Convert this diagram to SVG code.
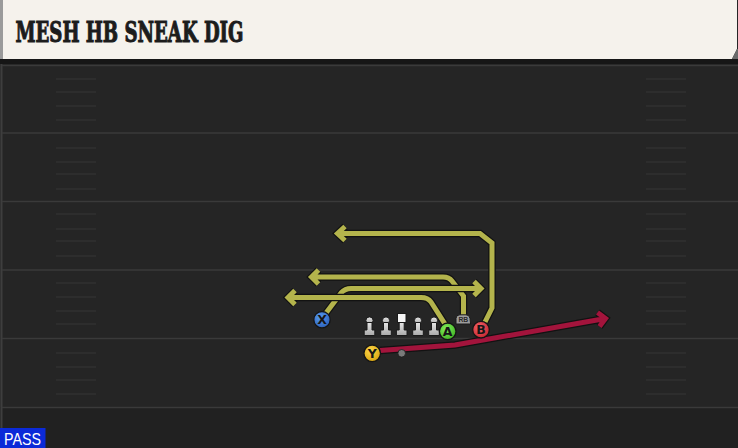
<svg xmlns="http://www.w3.org/2000/svg" width="738" height="448" viewBox="0 0 738 448">
<style>
.yard{stroke:#3a3a3a;stroke-width:1.6}
.hash{stroke:#363636;stroke-width:1.2}
.rt-o{fill:none;stroke:#121212;stroke-width:7.4;stroke-linejoin:miter;stroke-linecap:butt}
.rt{fill:none;stroke:#b4b44c;stroke-width:5;stroke-linejoin:miter;stroke-linecap:butt}
.rd{fill:none;stroke:#a3143c;stroke-width:5;stroke-linejoin:miter;stroke-linecap:butt}
.pl{stroke:#151515;stroke-width:1.3}
.lbl{font-family:"DejaVu Sans","Liberation Sans",Arial,sans-serif;font-weight:bold;font-size:12.5px;fill:#161616;text-anchor:middle}
.ol{fill:url(#gray);stroke:#1a1a1a;stroke-width:1}
.title{font-family:"DejaVu Serif","Liberation Serif",serif;font-weight:bold;font-size:28px;fill:#1c1c1c;stroke:#1c1c1c;stroke-width:1.1}
</style>
<defs>
<linearGradient id="gray" x1="0" y1="0" x2="0" y2="1">
<stop offset="0" stop-color="#e6e6e6"/><stop offset="1" stop-color="#aaaaaa"/>
</linearGradient>
<radialGradient id="gX" cx="0.4" cy="0.35" r="0.7"><stop offset="0" stop-color="#5a9cf0"/><stop offset="1" stop-color="#2a5fb8"/></radialGradient>
<radialGradient id="gA" cx="0.4" cy="0.35" r="0.7"><stop offset="0" stop-color="#84ee5c"/><stop offset="1" stop-color="#3fb122"/></radialGradient>
<radialGradient id="gB" cx="0.4" cy="0.35" r="0.7"><stop offset="0" stop-color="#f4646a"/><stop offset="1" stop-color="#c4242e"/></radialGradient>
<radialGradient id="gY" cx="0.4" cy="0.35" r="0.7"><stop offset="0" stop-color="#ffd84a"/><stop offset="1" stop-color="#d6a20e"/></radialGradient>
</defs>

<!-- field -->
<rect x="0" y="0" width="738" height="448" fill="#252525"/>
<rect x="0" y="407" width="738" height="41" fill="#212121"/>
<line x1="1.5" y1="60" x2="1.5" y2="428" stroke="#3e3e3e" stroke-width="2"/>
<g id="yardlines">
<line class="yard" x1="2" y1="65.5" x2="738" y2="65.5"/>
<line class="yard" x1="2" y1="133" x2="738" y2="133"/>
<line class="yard" x1="2" y1="201.5" x2="738" y2="201.5"/>
<line class="yard" x1="2" y1="270" x2="738" y2="270"/>
<line class="yard" x1="2" y1="338.5" x2="738" y2="338.5"/>
<line class="yard" x1="2" y1="407.5" x2="738" y2="407.5"/>
</g>
<g id="hashes">
<path class="hash" d="M56 79H96M56 92H96M56 106H96M56 120H96M56 148H96M56 162H96M56 174H96M56 189H96M56 214H96M56 229H96M56 241H96M56 256H96M56 283H96M56 297H96M56 311H96M56 324H96M56 353H96M56 367H96M56 380H96M56 394H96"/>
<path class="hash" d="M646 79H686M646 92H686M646 106H686M646 120H686M646 148H686M646 162H686M646 174H686M646 189H686M646 214H686M646 229H686M646 241H686M646 256H686M646 283H686M646 297H686M646 311H686M646 324H686M646 353H686M646 367H686M646 380H686M646 394H686"/>
</g>

<!-- header -->
<g id="header">
<rect x="0" y="59" width="738" height="5" fill="#161616"/>
<rect x="0" y="0" width="3" height="59" fill="#9a9a9a"/>
<polygon points="3,0 737,0 737,49 732,59 3,59" fill="#f5f2ec"/>
<polygon points="737,49 738,49 738,59 732,59" fill="#6a6a6a"/>
<text class="title" x="15.5" y="42" textLength="228" lengthAdjust="spacingAndGlyphs">MESH HB SNEAK DIG</text>
</g>

<!-- connectors -->
<g id="connectors">
<g id="route-B">
<path class="rt-o" d="M485 322L492 308V243L480 233.5H337M345 226.5L337.5 233.5L345 240.5"/>
<path class="rt" d="M485 322L492 308V243L480 233.5H337M345 226.5L337.5 233.5L345 240.5"/>
</g>
<g id="route-RB">
<path class="rt-o" d="M463.5 315V296L452 281Q449 277 443 277H311M318.5 270L311.5 277L318.5 284"/>
<path class="rt" d="M463.5 315V296L452 281Q449 277 443 277H311M318.5 270L311.5 277L318.5 284"/>
</g>
<g id="route-X">
<path class="rt-o" d="M326 313L341 293Q345 288.5 351 288.5H481M474 281.5L481 288.5L474 295.5"/>
<path class="rt" d="M326 313L341 293Q345 288.5 351 288.5H481M474 281.5L481 288.5L474 295.5"/>
</g>
<g id="route-A">
<path class="rt-o" d="M445 324L431 302Q428 297.5 421 297.5H288M295 290.5L288 297.5L295 304.5"/>
<path class="rt" d="M445 324L431 302Q428 297.5 421 297.5H288M295 290.5L288 297.5L295 304.5"/>
</g>
<g id="route-Y">
<path class="rt-o" d="M380 350.5L455 345L605.5 318.5M597.5 312.5L605.5 318.5L599.5 326.5"/>
<path class="rd" d="M380 350.5L455 345L605.5 318.5M597.5 312.5L605.5 318.5L599.5 326.5"/>
</g>
</g>

<!-- offensive line -->
<g id="lineman-1"><circle class="ol" cx="369.5" cy="320.5" r="3.6"/><path class="ol" d="M367 322.5H372V330H374.8V335.5H364.2V330H367Z"/></g>
<g id="lineman-2"><circle class="ol" cx="386" cy="320.5" r="3.6"/><path class="ol" d="M383.5 322.5H388.5V330H391.3V335.5H380.7V330H383.5Z"/></g>
<g id="center"><path class="ol" d="M399.2 322.5H404.2V330H407V335.5H396.4V330H399.2Z"/><rect x="397.5" y="313.5" width="8.5" height="9" fill="#f6f6f6" stroke="#1a1a1a" stroke-width="1"/></g>
<g id="lineman-4"><circle class="ol" cx="418" cy="320.5" r="3.6"/><path class="ol" d="M415.5 322.5H420.5V330H423.3V335.5H412.7V330H415.5Z"/></g>
<g id="lineman-5"><circle class="ol" cx="434" cy="320.5" r="3.6"/><path class="ol" d="M431.5 322.5H436.5V330H439.3V335.5H428.7V330H431.5Z"/></g>

<!-- QB dot -->
<g id="qb"><circle cx="401.7" cy="353.3" r="3.8" fill="#7a7a7a" stroke="#1a1a1a" stroke-width="0.8"/></g>

<!-- RB -->
<g id="RB">
<path d="M456 324V318.5Q456 314.8 459.8 314.8H466Q469.6 314.8 470 318.5L470.6 324Z" fill="#9c9c9c" stroke="#1a1a1a" stroke-width="1"/>
<text x="463.3" y="322.4" font-family="'Liberation Sans',Arial,sans-serif" font-size="6.8" font-weight="bold" fill="#2a2a2a" text-anchor="middle">RB</text>
</g>

<!-- players -->
<g id="X"><circle class="pl" cx="322" cy="319.7" r="8.2" fill="url(#gX)"/><text class="lbl" x="322" y="324.2">X</text></g>
<g id="A"><circle class="pl" cx="447.7" cy="331.3" r="8.3" fill="url(#gA)"/><text class="lbl" x="447.7" y="335.8">A</text></g>
<g id="B"><circle class="pl" cx="481" cy="329.7" r="8.3" fill="url(#gB)"/><text class="lbl" x="481" y="334.2">B</text></g>
<g id="Y"><circle class="pl" cx="372.2" cy="353.3" r="8.3" fill="url(#gY)"/><text class="lbl" x="372.2" y="357.8">Y</text></g>

<!-- play type -->
<g id="pass-label">
<rect x="0" y="428" width="45.5" height="20" fill="#0b2ad8"/>
<text x="4" y="445" font-family="'Liberation Sans',Arial,sans-serif" font-size="17" fill="#ffffff" textLength="37" lengthAdjust="spacingAndGlyphs">PASS</text>
</g>
</svg>
